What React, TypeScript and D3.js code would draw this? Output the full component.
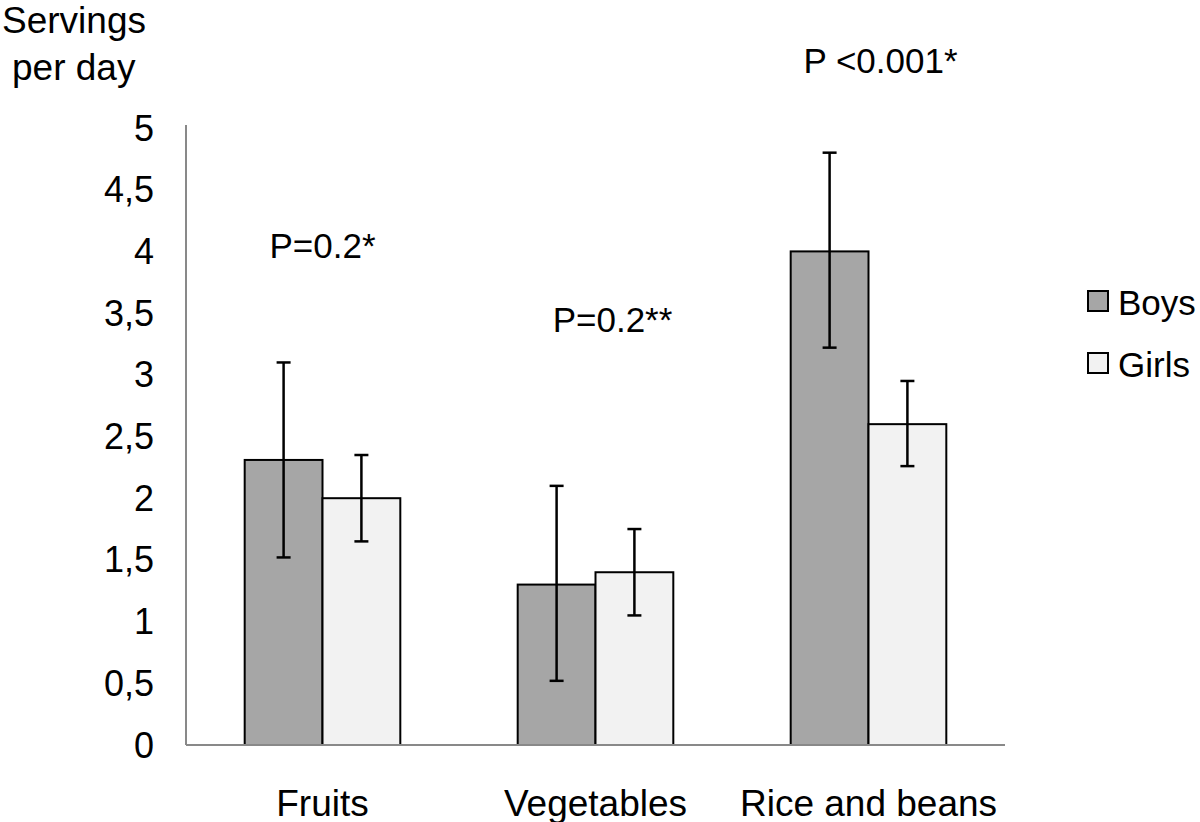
import React from "react";
import * as d3 from "d3";

const categories = ["Fruits", "Vegetables", "Rice and beans"];
const seriesNames = ["Boys", "Girls"];
const boysValues = [2.31, 1.3, 4.0];
const boysLow = [1.52, 0.52, 3.22];
const boysHigh = [3.1, 2.1, 4.8];
const girlsValues = [2.0, 1.4, 2.6];
const girlsLow = [1.65, 1.05, 2.26];
const girlsHigh = [2.35, 1.75, 2.95];
const pLabels = ["P=0.2*", "P=0.2**", "P <0.001*"];
const pLabelValues = [4.05, 3.45, 5.55];
const pLabelShift = [0, 17, 12];
const yTicks = [0, 0.5, 1, 1.5, 2, 2.5, 3, 3.5, 4, 4.5, 5];
const colors = ["#a6a6a6", "#f2f2f2"];

const FONT = "'Liberation Sans', Arial, Helvetica, sans-serif";

export default function App() {
  const width = 1200;
  const height = 822;
  const x0 = 186;
  const x1 = 1005;
  const y = d3.scaleLinear().domain([0, 5]).range([745, 128]);
  const x = d3.scaleBand().domain(categories).range([x0, x1]).paddingInner(0.43).paddingOuter(0.215);
  const xs = d3.scaleBand().domain(seriesNames).range([0, x.bandwidth()]);
  const series = [
    { name: "Boys", values: boysValues, lo: boysLow, hi: boysHigh },
    { name: "Girls", values: girlsValues, lo: girlsLow, hi: girlsHigh },
  ];
  const fmt = (v: number) => String(v).replace(".", ",");
  const cap = 7;
  return (
    <svg width={width} height={height} style={{ position: "absolute", left: 0, top: 0, background: "#fff" }} fontFamily={FONT}>
      <rect x={0} y={0} width={width} height={height} fill="#fff" />
      <text x={2} y={33} fontSize={37} fill="#000">Servings</text>
      <text x={12} y={80} fontSize={37} fill="#000">per day</text>
      {yTicks.map((t) => (
        <text key={t} x={154} y={y(t)} fontSize={36} textAnchor="end" dominantBaseline="central" fill="#000">
          {fmt(t)}
        </text>
      ))}
      {series.map((s, si) =>
        categories.map((c, ci) => {
          const bx = (x(c) as number) + (xs(s.name) as number);
          const bw = xs.bandwidth();
          return (
            <rect key={s.name + c} x={bx} y={y(s.values[ci])} width={bw} height={y(0) - y(s.values[ci])}
              fill={colors[si]} stroke="#000" strokeWidth={2} />
          );
        })
      )}
      {series.map((s) =>
        categories.map((c, ci) => {
          const cx = (x(c) as number) + (xs(s.name) as number) + xs.bandwidth() / 2;
          return (
            <g key={"e" + s.name + c} stroke="#000" strokeWidth={2.5}>
              <line x1={cx} x2={cx} y1={y(s.hi[ci])} y2={y(s.lo[ci])} />
              <line x1={cx - cap} x2={cx + cap} y1={y(s.hi[ci])} y2={y(s.hi[ci])} />
              <line x1={cx - cap} x2={cx + cap} y1={y(s.lo[ci])} y2={y(s.lo[ci])} />
            </g>
          );
        })
      )}
      <line x1={x0} x2={x0} y1={125} y2={y(0)} stroke="#898989" strokeWidth={2} />
      <line x1={x0} x2={x1} y1={y(0)} y2={y(0)} stroke="#898989" strokeWidth={2} />
      {categories.map((c) => (
        <text key={c} x={(x(c) as number) + x.bandwidth() / 2} y={803} fontSize={37} textAnchor="middle" dominantBaseline="central" fill="#000">
          {c}
        </text>
      ))}
      {categories.map((c, ci) => (
        <text key={"p" + c} x={(x(c) as number) + x.bandwidth() / 2 + pLabelShift[ci]} y={y(pLabelValues[ci])} fontSize={35} textAnchor="middle" dominantBaseline="central" fill="#000">
          {pLabels[ci]}
        </text>
      ))}
      {seriesNames.map((n, i) => (
        <g key={n} transform={`translate(1088, ${291 + i * 62})`}>
          <rect x={0} y={0} width={20} height={20} fill={colors[i]} stroke="#000" strokeWidth={2} />
          <text x={30} y={11} fontSize={35} dominantBaseline="central" fill="#000">{n}</text>
        </g>
      ))}
    </svg>
  );
}
